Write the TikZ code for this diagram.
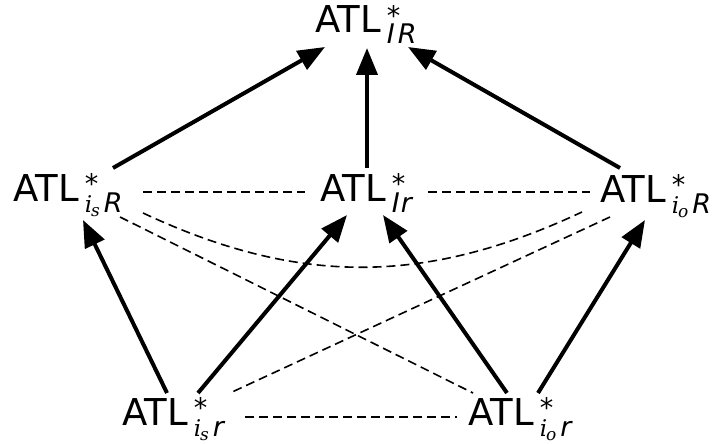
\documentclass[tikz,border=0pt]{standalone}
\usepackage{fontspec}
\setmainfont{DejaVu Sans}
\newfontfamily\serit{DejaVu Serif}
\usetikzlibrary{arrows.meta,calc}
\newcommand{\atl}[1]{ATL\kern6pt\rlap{\raisebox{7.5pt}{\fontsize{27}{27}\selectfont *}}\raisebox{-11pt}{#1}}
\newcommand{\sit}[1]{{\itshape\fontsize{27}{27}\selectfont #1}}
\newcommand{\isub}[2]{{\serit\itshape\fontsize{23}{23}\selectfont i\kern-1pt\raisebox{-4pt}{\fontsize{17}{17}\selectfont #1}}\kern4pt\sit{#2}}
\begin{document}
\begin{tikzpicture}[x=1pt,y=-1pt,
  lbl/.style={anchor=base west,inner sep=0pt,font=\fontsize{37}{44}\selectfont},
  arr/.style={line width=4pt,-{Triangle[length=27pt,width=21pt]}},
  dsh/.style={line width=1.6pt,dash pattern=on 9pt off 5pt}]
\useasboundingbox (0,0) rectangle (723,444);
\node[lbl] (top) at (315,33) {\atl{\sit{I\kern3pt R}}};
\node[lbl] (ml) at (13,201) {\atl{\isub{s}{R}}};
\node[lbl] (mc) at (320,201) {\atl{\sit{I\kern1pt r}}};
\node[lbl] (mr) at (600,202) {\atl{\isub{o}{R}}};
\node[lbl] (bl) at (122,425) {\atl{\isub{s}{r}}};
\node[lbl] (br) at (468,425) {\atl{\isub{o}{r}}};
% solid arrows
\draw[arr] ($(ml.base west)+(100,-33)$) -- ($(top.base west)+(10,14)$);
\draw[arr] ($(mc.base west)+(47,-33)$) -- ($(top.base west)+(52,15)$);
\draw[arr] ($(mr.base west)+(20,-34)$) -- ($(top.base west)+(93,14)$);
\draw[arr] ($(bl.base west)+(45,-32)$) -- ($(ml.base west)+(70,19)$);
\draw[arr] ($(bl.base west)+(76,-32)$) -- ($(mc.base west)+(27,14)$);
\draw[arr] ($(br.base west)+(39,-32)$) -- ($(mc.base west)+(63,14)$);
\draw[arr] ($(br.base west)+(70,-32)$) -- ($(mr.base west)+(45,18)$);
% dashed
\draw[dsh] ($(ml.base west)+(130,-9)$) -- ($(mc.base west)+(-15,-9)$);
\draw[dsh] ($(mc.base west)+(108,-9)$) -- ($(mr.base west)+(-10,-10)$);
\draw[dsh] ($(ml.base west)+(130,12)$) .. controls ($(ml.base west)+(286,85)$) and ($(mr.base west)+(-174,83)$) .. ($(mr.base west)+(-18,10)$);
\draw[dsh] ($(ml.base west)+(107,16)$) -- ($(br.base west)+(5,-32)$);
\draw[dsh] ($(mr.base west)+(10,15)$) -- ($(bl.base west)+(108,-32)$);
\draw[dsh] ($(bl.base west)+(123,-8)$) -- ($(br.base west)+(-11,-8)$);
\end{tikzpicture}
\end{document}
